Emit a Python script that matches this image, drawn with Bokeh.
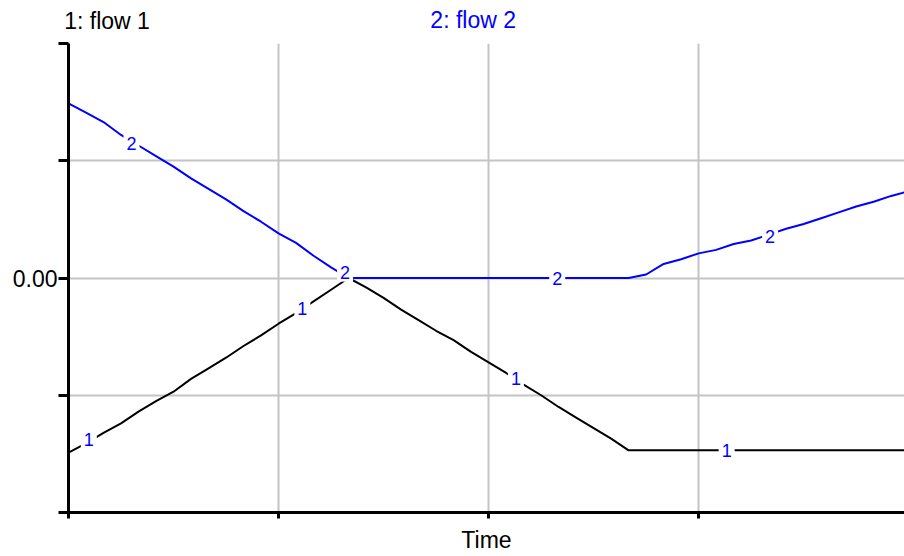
from bokeh.plotting import figure
from bokeh.models import Range1d, FixedTicker, LinearAxis
from bokeh.core.properties import value
from bokeh.embed import file_html
from bokeh.resources import INLINE

time = [0.0, 0.25, 0.5, 0.75, 1.0, 1.25, 1.5, 1.75, 2.0, 2.25, 2.5, 2.75, 3.0, 3.25, 3.5, 3.75,
        4.0, 4.25, 4.5, 4.75, 5.0, 5.25, 5.5, 5.75, 6.0, 6.25, 6.5, 6.75, 7.0, 7.25, 7.5, 7.75,
        8.0, 8.25, 8.5, 8.75, 9.0, 9.25, 9.5, 9.75, 10.0, 10.25, 10.5, 10.75, 11.0, 11.25, 11.5, 11.75, 12.0]
flow1 = [-1.49, -1.41, -1.32, -1.24, -1.14, -1.05, -0.97, -0.86, -0.77, -0.68, -0.58, -0.49, -0.39, -0.30, -0.20, -0.10,
         0.00, -0.08, -0.17, -0.27, -0.36, -0.45, -0.53, -0.63, -0.72, -0.81, -0.91, -1.00, -1.10, -1.19, -1.28, -1.37,
         -1.47, -1.47, -1.47, -1.47, -1.47, -1.47, -1.47, -1.47, -1.47, -1.47, -1.47, -1.47, -1.47, -1.47, -1.47, -1.47, -1.47]
flow2 = [1.49, 1.41, 1.33, 1.22, 1.13, 1.04, 0.95, 0.85, 0.76, 0.67, 0.57, 0.48, 0.38, 0.30, 0.19, 0.09,
         0.00, 0.00, 0.00, 0.00, 0.00, 0.00, 0.00, 0.00, 0.00, 0.00, 0.00, 0.00, 0.00, 0.00, 0.00, 0.00,
         0.00, 0.03, 0.12, 0.16, 0.21, 0.24, 0.29, 0.32, 0.37, 0.42, 0.46, 0.51, 0.56, 0.61, 0.65, 0.70, 0.74]

# line identification markers
mark1_t = [0.29, 3.34, 6.39, 9.40]
mark1_v = [-1.38, -0.26, -0.86, -1.47]
mark2_t = [0.90, 3.95, 6.98, 10.02]
mark2_v = [1.15, 0.05, 0.00, 0.35]

y_ticks = [-2, -1, 0, 1, 2]
y_tick_labels = {-2: "", -1: "", 0: "0.00", 1: "", 2: ""}
x_ticks = [0, 3, 6, 9, 12]
series1_name = "1: flow 1"
series2_name = "2: flow 2"
series1_name_pos = 0.55
series2_name_pos = 5.78
x_title = "Time"

FONT = "Liberation Sans"
BLUE = "#0000ff"
BIG = "23px"

p = figure(width=904, height=556, output_backend="svg", toolbar_location=None,
           x_range=Range1d(0, 11.94), y_range=Range1d(-2, 2),
           min_border_left=68, min_border_right=0, min_border_top=43, min_border_bottom=44)
p.outline_line_color = None

p.xaxis.ticker = FixedTicker(ticks=x_ticks)
p.yaxis.ticker = FixedTicker(ticks=y_ticks)
p.yaxis.major_label_overrides = y_tick_labels
p.xaxis.major_label_overrides = {t: "" for t in x_ticks}
p.xaxis.major_label_text_font_size = "1px"
p.xaxis.major_label_standoff = 0

for ax in (p.xaxis[0], p.yaxis[0]):
    ax.axis_line_width = 3
    ax.axis_line_color = "black"
    ax.major_tick_line_width = 3
    ax.major_tick_line_color = "black"
    ax.minor_tick_line_color = None
    ax.major_tick_in = 0
p.xaxis.major_tick_out = 6
p.yaxis.major_tick_out = 10
p.yaxis.major_label_standoff = 1
p.yaxis.major_label_text_font = FONT
p.yaxis.major_label_text_font_size = BIG
p.yaxis.major_label_text_color = "black"

p.xaxis.axis_label = x_title
p.xaxis.axis_label_text_font = FONT
p.xaxis.axis_label_text_font_size = BIG
p.xaxis.axis_label_text_font_style = "normal"
p.xaxis.axis_label_text_color = "black"
p.xaxis.axis_label_standoff = 8

# series names row above the plot (two label-only axes sharing one row)
top1 = LinearAxis(ticker=FixedTicker(ticks=[series1_name_pos]),
                  major_label_overrides={series1_name_pos: series1_name},
                  axis_line_color=None, major_tick_line_color=None, minor_tick_line_color=None,
                  major_tick_in=0, major_tick_out=0, major_label_standoff=10,
                  major_label_text_font=FONT, major_label_text_font_size=BIG,
                  major_label_text_color="black")
p.add_layout(top1, "above")

top2 = LinearAxis(ticker=FixedTicker(ticks=[series2_name_pos]),
                  major_label_overrides={series2_name_pos: series2_name},
                  axis_line_color=None, major_tick_line_color=None, minor_tick_line_color=None,
                  major_tick_in=0, major_tick_out=0, major_label_standoff=-28,
                  major_label_text_font=FONT, major_label_text_font_size=BIG,
                  major_label_text_color=BLUE)
p.add_layout(top2, "above")

p.xgrid.ticker = FixedTicker(ticks=x_ticks)
p.ygrid.ticker = FixedTicker(ticks=y_ticks)
p.grid.grid_line_color = "#c4c4c4"
p.grid.grid_line_width = 2

p.line(time, flow1, line_color="black", line_width=2)
p.line(time, flow2, line_color=BLUE, line_width=2)

p.text(mark1_t, mark1_v, text=["1"] * len(mark1_t), text_color=BLUE, text_font=value(FONT),
       text_font_size="18px", text_align="center", text_baseline="middle",
       background_fill_color="white", padding=3)
p.text(mark2_t, mark2_v, text=["2"] * len(mark2_t), text_color=BLUE, text_font=value(FONT),
       text_font_size="18px", text_align="center", text_baseline="middle",
       background_fill_color="white", padding=3)

open("out.html", "w").write(file_html(p, INLINE))
